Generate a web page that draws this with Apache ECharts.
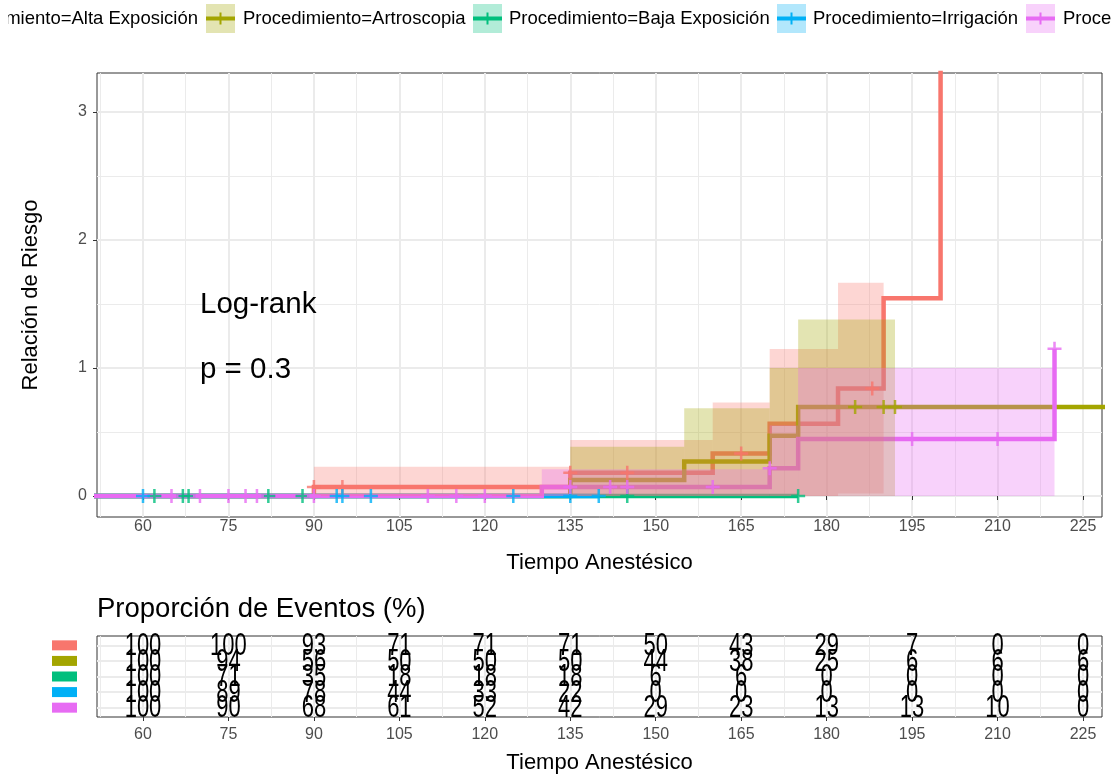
<!DOCTYPE html>
<html><head><meta charset="utf-8">
<script src="https://cdn.jsdelivr.net/npm/echarts@6/dist/echarts.min.js"></script>
<style>html,body{margin:0;padding:0;background:#fff}#c{width:1120px;height:775px}</style>
</head><body><div id="c"></div>
<script>
// ---------- data ----------
const groupLabels = ['Procedimiento=Alta Exposición','Procedimiento=Artroscopia','Procedimiento=Baja Exposición','Procedimiento=Irrigación','Procedimiento=Otros'];
const groupColors = ['#F8766D','#A3A500','#00BF7D','#00B0F6','#E76BF3'];

const timeTicks = [60,75,90,105,120,135,150,165,180,195,210,225];
const timeMinor = [52.5,67.5,82.5,97.5,112.5,127.5,142.5,157.5,172.5,187.5,202.5,217.5];
const hazTicks = [0,1,2,3];
const hazMinor = [0.5,1.5,2.5];

// step curves: time, cumulative hazard (last red value = infinite jump)
const altaTime = [0,90,135,160,170,182,190,200];
const altaHaz  = [0,0.071,0.182,0.333,0.565,0.84,1.545,50];
const artroTime = [0,135,155,170,175,240];
const artroHaz  = [0,0.125,0.27,0.47,0.695,0.695];
const bajaTime = [0,175];
const bajaHaz  = [0,0];
const irrTime = [0,140];
const irrHaz  = [0,0];
const otrosTime = [0,130,170,175,220];
const otrosHaz  = [0,0.07,0.216,0.445,1.15];

// censor marks
const altaCensT = [90,95,135,145,165,188];
const altaCensH = [0.071,0.071,0.182,0.182,0.333,0.84];
const artroCensT = [185,190,192];
const artroCensH = [0.695,0.695,0.695];
const bajaCensT = [62,67,68,82,88,145,175];
const bajaCensH = [0,0,0,0,0,0,0];
const irrCensT = [60,94,95,100,125,135,140];
const irrCensH = [0,0,0,0,0,0,0];
const otrosCensT = [65,70,75,78,80,90,110,115,120,135,142,145,160,170,195,210,220];
const otrosCensH = [0,0,0,0,0,0,0,0,0,0.07,0.07,0.07,0.07,0.216,0.445,0.445,1.15];

// confidence bands: breakpoints, upper, lower
const altaBandT  = [90,135,160,170,182,190];
const altaBandUp = [0.229,0.4375,0.73,1.148,1.667];
const altaBandLo = [0,0,0,0,0.02];
const artroBandT  = [135,155,170,175,192];
const artroBandUp = [0.385,0.685,1.0,1.38];
const artroBandLo = [0,0,0,0];
const otrosBandT  = [130,170,175,220];
const otrosBandUp = [0.21,0.55,1.0];
const otrosBandLo = [0,0,0];

// table: proporción de eventos (%)
const tableTimes = [60,75,90,105,120,135,150,165,180,195,210,225];
const tableAlta  = [100,100,93,71,71,71,50,43,29,7,0,0];
const tableArtro = [100,94,56,50,50,50,44,38,25,6,6,6];
const tableBaja  = [100,71,35,18,18,18,6,6,0,0,0,0];
const tableIrr   = [100,89,78,44,33,22,0,0,0,0,0,0];
const tableOtros = [100,90,68,61,52,42,29,23,13,13,10,0];

// ---------- build ----------
const FONT = '"Liberation Sans", Arial, Helvetica, sans-serif';
const curves = [[altaTime,altaHaz],[artroTime,artroHaz],[bajaTime,bajaHaz],[irrTime,irrHaz],[otrosTime,otrosHaz]];
const censors = [[altaCensT,altaCensH],[artroCensT,artroCensH],[bajaCensT,bajaCensH],[irrCensT,irrCensH],[otrosCensT,otrosCensH]];
const bands = [[0,altaBandT,altaBandUp,altaBandLo],[1,artroBandT,artroBandUp,artroBandLo],[4,otrosBandT,otrosBandUp,otrosBandLo]];
const tableRows = [tableAlta,tableArtro,tableBaja,tableIrr,tableOtros];

function rgba(hex,a){const n=parseInt(hex.slice(1),16);return `rgba(${n>>16&255},${n>>8&255},${n&255},${a})`;}
const zip = (a,b) => a.map((v,i)=>[v,b[i]]);
const PLUS = 'path://M0,4.1L10,4.1L10,5.9L0,5.9Z M4.1,0L5.9,0L5.9,10L4.1,10Z';

const XMIN = 51.925, XMAX = 228.335;
const series = [];
curves.forEach((c,i)=>{
  series.push({type:'line', name:groupLabels[i], xAxisIndex:0, yAxisIndex:0, step:'end', data:zip(c[0],c[1]),
    symbol:'none', clip:true, lineStyle:{color:groupColors[i], width:4.5, join:'miter', cap:'butt'}, silent:true, z:2});
});
bands.forEach(b=>{
  const [gi,T,up,lo] = b;
  series.push({type:'custom', xAxisIndex:0, yAxisIndex:0, clip:true, z:3, silent:true,
    data: up.map((u,k)=>[T[k],T[k+1],lo[k],u]),
    renderItem:(params,api)=>{
      const p0 = api.coord([api.value(0), api.value(3)]);
      const p1 = api.coord([api.value(1), api.value(2)]);
      return {type:'rect', shape:{x:p0[0], y:p0[1], width:p1[0]-p0[0], height:p1[1]-p0[1]},
        style:{fill:rgba(groupColors[gi],0.3)}};
    }});
});
censors.forEach((c,i)=>{
  series.push({type:'scatter', xAxisIndex:0, yAxisIndex:0, data:zip(c[0],c[1]), symbol:PLUS, symbolSize:14,
    itemStyle:{color:groupColors[i]}, clip:true, z:4, silent:true});
});
// table text
const tableData = [];
tableRows.forEach((row,r)=>row.forEach((v,k)=>tableData.push([tableTimes[k], r+1, v])));
series.push({type:'custom', xAxisIndex:2, yAxisIndex:2, data:tableData, z:5, silent:true,
  renderItem:(params,api)=>{
    const p = api.coord([api.value(0), api.value(1)]);
    return {type:'text', x:p[0], y:p[1]+1, scaleY:1.42,
      style:{text:String(api.value(2)), fill:'#000', font:'22px '+FONT, align:'center', verticalAlign:'middle'}};
  }});

const gridLine = (w)=>({show:true, lineStyle:{color:'#EBEBEB', width:w}});
const tickStyle = {show:true, length:4, lineStyle:{color:'#333333', width:1}};
const labelStyle = {color:'#4D4D4D', fontSize:16, fontFamily:FONT};

const richRows = {};
groupColors.forEach((c,i)=>{ richRows['c'+i] = {backgroundColor:c, width:25, height:10}; });

// legend graphics
const legendKeyX = [-60, 206, 473, 777, 1026];
const legendTextX = [198, 243, 509, 813, 1063];
const graphic = [];
groupLabels.forEach((g,i)=>{
  const kx = legendKeyX[i];
  graphic.push({type:'rect', left:kx, top:4, z:100, shape:{width:29,height:29}, style:{fill:rgba(groupColors[i],0.3)}});
  graphic.push({type:'rect', left:kx, top:16.5, z:101, shape:{width:29,height:4}, style:{fill:groupColors[i]}});
  graphic.push({type:'rect', left:kx+13.5, top:12.5, z:101, shape:{width:2,height:12}, style:{fill:groupColors[i]}});
  graphic.push({type:'text', x:legendTextX[i], y:18.5, z:100, style:{text:g, fill:'#000', font:'18.5px '+FONT, align:(i===0?'right':'left'), verticalAlign:'middle'}});
});
// legend is clipped by the figure margins
graphic.push({type:'rect', left:0, top:0, z:110, shape:{width:8,height:40}, style:{fill:'#fff'}});
graphic.push({type:'rect', left:1111, top:0, z:110, shape:{width:9,height:40}, style:{fill:'#fff'}});
graphic.push({type:'text', x:200, y:305, z:100, style:{text:'Log-rank', fill:'#000', font:'29.5px '+FONT, align:'left', verticalAlign:'middle'}});
graphic.push({type:'text', x:200, y:370, z:100, style:{text:'p = 0.3', fill:'#000', font:'29.5px '+FONT, align:'left', verticalAlign:'middle'}});
graphic.push({type:'text', x:97, y:609, z:100, style:{text:'Proporción de Eventos (%)', fill:'#000', font:'27.5px '+FONT, align:'left', verticalAlign:'middle'}});

const option = {
  animation:false,
  backgroundColor:'#fff',
  textStyle:{fontFamily:FONT},
  grid:[
    {left:97, top:73, width:1005, height:444, show:true, borderColor:'#333333', borderWidth:1, backgroundColor:'transparent'},
    {left:97, top:636, width:1005, height:83, show:true, borderColor:'#333333', borderWidth:1, backgroundColor:'transparent'}
  ],
  xAxis:[
    {type:'value', gridIndex:0, min:XMIN, max:XMAX, axisLine:{show:false},
     axisTick:Object.assign({customValues:timeTicks}, tickStyle),
     axisLabel:Object.assign({customValues:timeTicks, margin:2}, labelStyle),
     splitLine:gridLine(2), name:'Tiempo Anestésico', nameLocation:'middle', nameGap:35,
     nameTextStyle:{color:'#000', fontSize:22, fontFamily:FONT}},
    {type:'value', gridIndex:0, min:XMIN, max:XMAX, position:'bottom', axisLine:{show:false},
     axisTick:{show:false, customValues:timeMinor}, axisLabel:{show:false, customValues:timeMinor}, splitLine:gridLine(1)},
    {type:'value', gridIndex:1, min:XMIN, max:XMAX, axisLine:{show:false},
     axisTick:Object.assign({customValues:timeTicks}, tickStyle),
     axisLabel:Object.assign({customValues:timeTicks, margin:10}, labelStyle),
     splitLine:gridLine(2), name:'Tiempo Anestésico', nameLocation:'middle', nameGap:35,
     nameTextStyle:{color:'#000', fontSize:22, fontFamily:FONT}},
    {type:'value', gridIndex:1, min:XMIN, max:XMAX, position:'bottom', axisLine:{show:false},
     axisTick:{show:false, customValues:timeMinor}, axisLabel:{show:false, customValues:timeMinor}, splitLine:gridLine(1)}
  ],
  yAxis:[
    {type:'value', gridIndex:0, min:-0.164, max:3.305, axisLine:{show:false},
     axisTick:Object.assign({customValues:hazTicks}, tickStyle),
     axisLabel:Object.assign({customValues:hazTicks, margin:10}, labelStyle),
     splitLine:gridLine(2), name:'Relación de Riesgo', nameLocation:'middle', nameGap:55, nameRotate:90,
     nameTextStyle:{color:'#000', fontSize:22, fontFamily:FONT}},
    {type:'value', gridIndex:0, min:-0.164, max:3.305, position:'left', axisLine:{show:false},
     axisTick:{show:false, customValues:hazMinor}, axisLabel:{show:false, customValues:hazMinor}, splitLine:gridLine(1)},
    {type:'value', gridIndex:1, min:0.4, max:5.6, inverse:true, axisLine:{show:false},
     axisTick:{show:false, customValues:[1,2,3,4,5]},
     axisLabel:{customValues:[1,2,3,4,5], margin:20, formatter:(v)=>'{c'+(Math.round(v)-1)+'| }', rich:richRows},
     splitLine:gridLine(2)}
  ],
  graphic: graphic,
  series: series
};
const chart = echarts.init(document.getElementById('c'), null, {renderer:'canvas'});
chart.setOption(option);
</script>
</body></html>
